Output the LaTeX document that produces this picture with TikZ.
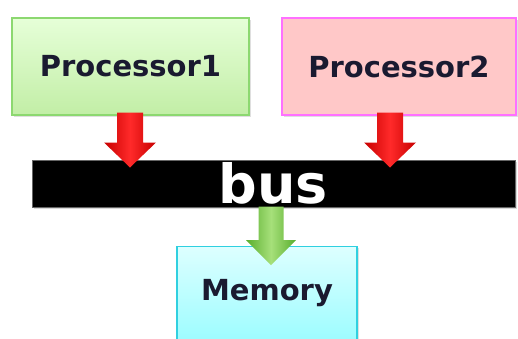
\documentclass[tikz,border=0pt]{standalone}
\usepackage{fontspec}
\setmainfont{DejaVu Sans}
\usetikzlibrary{calc,shadows}

\definecolor{inkblue}{HTML}{1A1A30}
\definecolor{greenedge}{HTML}{8CD870}
\definecolor{greentop}{HTML}{E6FFD8}
\definecolor{greenbot}{HTML}{C2EEA6}
\definecolor{pinkfill}{HTML}{FFC8C8}
\definecolor{pinkedge}{HTML}{FF70FF}
\definecolor{cyantop}{HTML}{DDFFFF}
\definecolor{cyanbot}{HTML}{96FCFF}
\definecolor{cyanedge}{HTML}{30D0E0}
\definecolor{reddark}{HTML}{C80000}
\definecolor{redlight}{HTML}{FF2A2A}
\definecolor{grndark}{HTML}{5AAE2E}
\definecolor{grnlight}{HTML}{A6E07A}

% block arrow pointing down: style, start point, tip, shaft half width (pt)
\newcommand\blockdown[4]{%
  \path[#1] let \p1=(#2), \p2=(#3) in
    (\x1-#4pt,\y1) -- (\x1+#4pt,\y1) -- (\x1+#4pt,\y2+25pt)
    -- (\x1+2*#4pt,\y2+25pt) -- (\x1,\y2) -- (\x1-2*#4pt,\y2+25pt)
    -- (\x1-#4pt,\y2+25pt) -- cycle;}

\begin{document}
\begin{tikzpicture}[x=1pt,y=-1pt,
  unit/.style={rectangle, inner sep=0pt, line width=1.2pt, text=inkblue,
    font=\fontsize{29}{34}\selectfont\bfseries,
    drop shadow={opacity=0.25, shadow xshift=1.5pt, shadow yshift=-1.5pt}},
  proc1/.style={unit, draw=greenedge, top color=greentop, bottom color=greenbot},
  proc2/.style={unit, draw=pinkedge, fill=pinkfill},
  membox/.style={unit, draw=cyanedge, top color=cyantop, bottom color=cyanbot},
  busbox/.style={rectangle, inner sep=0pt, fill=black, draw=black!60, line width=1pt,
    text=white, font=\fontsize{54}{60}\selectfont\bfseries,
    drop shadow={opacity=0.3, shadow xshift=1.5pt, shadow yshift=-1.5pt}},
  redarrow/.style={left color=reddark, right color=reddark, middle color=redlight},
  greenarrow/.style={left color=grndark, right color=grndark, middle color=grnlight}]

\useasboundingbox (0,0) rectangle (518,338);
\clip (0,0) rectangle (518,338);

\node[proc1, minimum width=237pt, minimum height=97pt] (p1) at (130.5,66.5) {Processor1};
\node[proc2, minimum width=234pt, minimum height=97pt] (p2) at (399,66.5) {Processor2};
\node[membox, anchor=north, minimum width=180pt, text height=54pt, text depth=50pt]
  (m) at (267,246) {Memory};
\node[busbox, minimum width=483pt, minimum height=47pt] (bus) at (273.5,183.5) {bus};

% connectors from the processors down onto the bus
\coordinate (a1s) at ($(p1.south)+(-0.5,-3)$);
\coordinate (a1e) at ($(a1s |- bus.north)+(0,8)$);
\coordinate (a2s) at ($(p2.south)+(-9,-3)$);
\coordinate (a2e) at ($(a2s |- bus.north)+(0,8)$);
\blockdown{redarrow}{a1s}{a1e}{13}
\blockdown{redarrow}{a2s}{a2e}{13}

% connector from the bus down into memory
\coordinate (a3e) at ($(m.north)+(4,19)$);
\coordinate (a3s) at ($(a3e |- bus.south)+(0,-1)$);
\blockdown{greenarrow}{a3s}{a3e}{12.5}
\end{tikzpicture}
\end{document}
